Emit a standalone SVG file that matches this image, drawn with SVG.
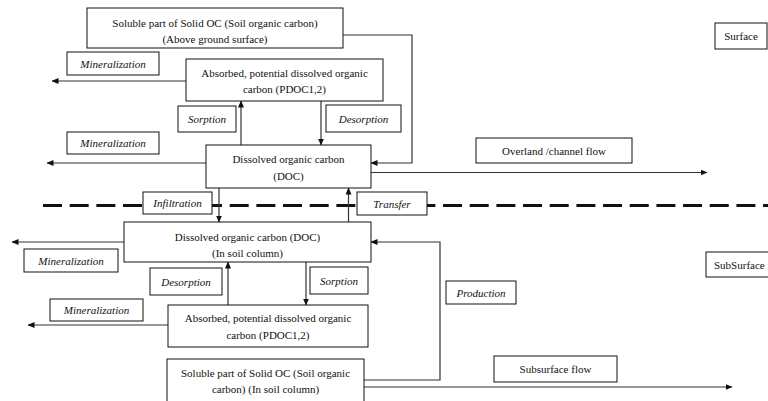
<svg xmlns="http://www.w3.org/2000/svg" width="768" height="401" viewBox="0 0 768 401" font-family="'Liberation Serif', 'Times New Roman', serif" font-size="11">
<defs>
<marker id="ah" markerWidth="7" markerHeight="6" refX="6.5" refY="3" orient="auto" markerUnits="userSpaceOnUse">
<path d="M0,0 L7,3 L0,6 Z" fill="#111"/>
</marker>
<style>
rect{fill:#fff;stroke:#111;stroke-width:1}
text{font-family:'Liberation Serif','Times New Roman',serif;font-size:11px;fill:#111;text-anchor:middle}
.i{font-style:italic}
#connectors path,#connectors line{fill:none;stroke:#333;stroke-width:1.2}
.dash{stroke:#111;stroke-width:3;stroke-dasharray:19 7.67;fill:none}
</style>
</defs>
<rect x="0" y="0" width="768" height="401" style="fill:#fff;stroke:none"/>
<line class="dash" x1="43" y1="205.5" x2="768" y2="205.5"/>
<g id="connectors">
<path d="M343,35 H412 V163 H371" marker-end="url(#ah)"/>
<line x1="186" y1="81" x2="52" y2="81" marker-end="url(#ah)"/>
<line x1="241" y1="145" x2="241" y2="101" marker-end="url(#ah)"/>
<line x1="321" y1="101" x2="321" y2="145" marker-end="url(#ah)"/>
<line x1="206" y1="163" x2="47" y2="163" marker-end="url(#ah)"/>
<line x1="371" y1="172.5" x2="707" y2="172.5" marker-end="url(#ah)"/>
<line x1="219" y1="188" x2="219" y2="222" marker-end="url(#ah)"/>
<line x1="348.5" y1="222" x2="348.5" y2="188" marker-end="url(#ah)"/>
<line x1="124" y1="242" x2="12" y2="242" marker-end="url(#ah)"/>
<path d="M364,380 H440 V242 H371" marker-end="url(#ah)"/>
<line x1="228" y1="305" x2="228" y2="262" marker-end="url(#ah)"/>
<line x1="306" y1="262" x2="306" y2="305" marker-end="url(#ah)"/>
<line x1="168" y1="325" x2="28" y2="325" marker-end="url(#ah)"/>
<line x1="364" y1="387" x2="732" y2="387" marker-end="url(#ah)"/>
</g>
<g id="soc-surface"><rect x="87" y="8" width="256" height="40"/><text x="215" y="27">Soluble part of Solid OC (Soil organic carbon)</text><text x="215" y="43">(Above ground surface)</text></g>
<g id="pdoc-surface"><rect x="186" y="59" width="197" height="42"/><text x="284.5" y="77">Absorbed, potential dissolved organic</text><text x="284.5" y="93">carbon (PDOC1,2)</text></g>
<g id="doc-surface"><rect x="206" y="145" width="165" height="43"/><text x="288.5" y="163">Dissolved organic carbon</text><text x="288.5" y="180">(DOC)</text></g>
<g id="doc-soil"><rect x="124" y="222" width="247" height="40"/><text x="247.5" y="241">Dissolved organic carbon (DOC)</text><text x="247.5" y="257">(In soil column)</text></g>
<g id="pdoc-soil"><rect x="168" y="305" width="200" height="42"/><text x="268" y="322">Absorbed, potential dissolved organic</text><text x="268" y="339">carbon (PDOC1,2)</text></g>
<g id="soc-soil"><rect x="167" y="359" width="197" height="50"/><text x="265.5" y="377">Soluble part of Solid OC (Soil organic</text><text x="265.5" y="393">carbon) (In soil column)</text></g>
<g id="lbl-min1"><rect x="67" y="52" width="92" height="23"/><text class="i" x="113" y="67.5">Mineralization</text></g>
<g id="lbl-min2"><rect x="67" y="132" width="92" height="22"/><text class="i" x="113" y="147">Mineralization</text></g>
<g id="lbl-sorp1"><rect x="178" y="106" width="58" height="26"/><text class="i" x="207" y="123">Sorption</text></g>
<g id="lbl-desorp1"><rect x="326" y="105" width="75" height="27"/><text class="i" x="363.5" y="122.5">Desorption</text></g>
<g id="lbl-overland"><rect x="476" y="138" width="156" height="25"/><text x="554" y="154.5">Overland /channel flow</text></g>
<g id="lbl-surface"><rect x="715" y="23" width="52" height="26"/><text x="741" y="40">Surface</text></g>
<g id="lbl-infil"><rect x="143" y="192" width="69" height="22"/><text class="i" x="177.5" y="207">Infiltration</text></g>
<g id="lbl-transfer"><rect x="357" y="192" width="70" height="23"/><text class="i" x="392" y="207.5">Transfer</text></g>
<g id="lbl-min3"><rect x="24" y="249" width="94" height="23"/><text class="i" x="71" y="264.5">Mineralization</text></g>
<g id="lbl-desorp2"><rect x="150" y="268" width="72" height="27"/><text class="i" x="186" y="285.5">Desorption</text></g>
<g id="lbl-sorp2"><rect x="310" y="267" width="58" height="27"/><text class="i" x="339" y="284.5">Sorption</text></g>
<g id="lbl-min4"><rect x="50" y="299" width="93" height="22"/><text class="i" x="96.5" y="314">Mineralization</text></g>
<g id="lbl-production"><rect x="446" y="281" width="70" height="23"/><text class="i" x="481" y="296.5">Production</text></g>
<g id="lbl-subflow"><rect x="494" y="356" width="123" height="26"/><text x="555.5" y="373">Subsurface flow</text></g>
<g id="lbl-subsurface"><rect x="706" y="252" width="70" height="25"/><text x="714" y="268.5" style="text-anchor:start">SubSurface</text></g>
</svg>
